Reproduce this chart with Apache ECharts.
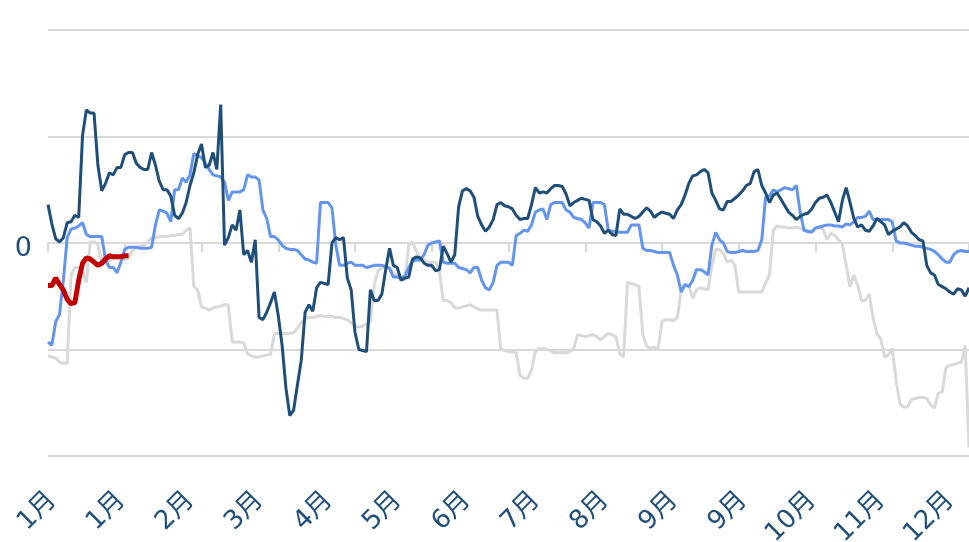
<!DOCTYPE html>
<html>
<head>
<meta charset="utf-8">
<script src="https://cdn.jsdelivr.net/npm/echarts@6/dist/echarts.min.js"></script>
<style>
html, body { margin: 0; padding: 0; background: #fff; }
#chart { width: 969px; height: 542px; }
</style>
</head>
<body>
<div id="chart"></div>
<script>
// month labels shown every 18 trading days
var monthLabels = ['1月', '1月', '2月', '3月', '4月', '5月', '6月', '7月', '8月', '9月', '9月', '10月', '11月', '12月'];
var pointCount = 241;
var labelStep = 18;

var darkBlue = [
    36, 18, 4, 1, 5, 19, 20, 26, 24, 101,
    125, 122, 122, 73, 49, 56, 66, 64, 71, 71,
    83, 85, 85, 75, 71, 69, 69, 85, 73, 58,
    50, 50, 44, 26, 23, 28, 38, 54, 66, 83,
    93, 71, 73, 85, 69, 130, -2, 5, 17, 12,
    31, -11, -7, -18, 3, -70, -72, -65, -56, -46,
    -68, -96, -136, -162, -157, -133, -110, -65, -58, -64,
    -42, -37, -38, -39, 0, 5, 3, 5, -33, -44,
    -84, -100, -101, -102, -44, -54, -54, -48, -25, -5,
    -21, -23, -35, -33, -32, -15, -13, -14, -19, -21,
    -21, -26, -25, -3, -10, -18, -11, 34, 49, 51,
    49, 43, 25, 17, 11, 15, 22, 36, 38, 35,
    34, 32, 26, 22, 23, 23, 36, 52, 47, 48,
    47, 51, 54, 54, 53, 46, 35, 38, 40, 42,
    41, 40, 22, 20, 16, 9, 12, 8, 7, 32,
    27, 27, 25, 23, 25, 29, 33, 30, 24, 27,
    29, 28, 27, 23, 31, 36, 45, 56, 63, 64,
    67, 69, 66, 47, 40, 32, 31, 39, 39, 42,
    45, 49, 54, 56, 67, 69, 54, 47, 38, 45,
    47, 41, 35, 29, 26, 22, 25, 27, 28, 32,
    38, 42, 43, 45, 38, 29, 20, 40, 52, 38,
    23, 15, 17, 12, 11, 16, 23, 20, 17, 8,
    11, 13, 15, 19, 16, 10, 7, 3, 2, -21,
    -28, -30, -39, -41, -43, -46, -48, -43, -44, -50,
    -42
];

var lightBlue = [
    -93, -96, -74, -67, -35, 5, 13, 14, 16, 19,
    8, 6, 6, 6, 6, -16, -23, -23, -28, -18,
    -6, -4, -4, -4, -5, -5, -5, -4, 17, 31,
    30, 28, 20, 50, 50, 61, 57, 64, 84, 82,
    80, 75, 69, 64, 63, 62, 57, 40, 48, 48,
    48, 50, 64, 62, 62, 59, 31, 23, 6, 6,
    3, -2, -5, -6, -6, -7, -11, -15, -16, -18,
    -19, 38, 38, 38, 33, -2, -21, -21, -19, -18,
    -21, -21, -21, -23, -22, -21, -21, -21, -22, -24,
    -32, -32, -33, -31, -23, -17, -16, -16, -11, -2,
    0, 1, 2, -18, -19, -19, -19, -23, -24, -25,
    -28, -23, -23, -35, -42, -44, -37, -21, -18, -18,
    -18, -21, 7, 9, 12, 11, 17, 29, 31, 32,
    22, 36, 38, 38, 38, 31, 29, 24, 23, 22,
    19, 14, 38, 38, 38, 36, 12, 11, 11, 10,
    10, 10, 17, 17, 17, -5, -7, -7, -8, -9,
    -9, -9, -9, -21, -30, -46, -39, -41, -35, -25,
    -25, -27, -30, -2, 10, 3, 0, -8, -9, -9,
    -8, -7, -8, -8, -8, -7, 3, 43, 44, 50,
    48, 50, 52, 51, 50, 54, 29, 12, 11, 10,
    14, 15, 16, 17, 17, 16, 16, 15, 18, 17,
    20, 24, 24, 25, 30, 22, 22, 22, 22, 22,
    20, 2, 0, 0, -1, -2, -3, -3, -4, -5,
    -6, -8, -11, -15, -18, -18, -11, -8, -7, -8,
    -8
];

var gray = [
    -106, -107, -108, -112, -113, -113, -30, -23, -23, -27,
    -37, 1, 1, -1, -18, -18, -16, -14, -14, -14,
    -16, -14, -7, -4, -3, -2, 1, 5, 5, 6,
    6, 6, 7, 7, 8, 8, 12, 14, -41, -44,
    -60, -61, -63, -61, -60, -59, -58, -58, -93, -93,
    -93, -94, -104, -106, -107, -107, -106, -105, -105, -85,
    -85, -85, -85, -85, -84, -80, -75, -71, -70, -70,
    -69, -68, -69, -69, -69, -70, -70, -71, -72, -75,
    -78, -79, -78, -76, -74, -39, -26, -23, -23, -23,
    -28, -31, -33, -35, -2, 1, -8, -14, -16, -19,
    -18, -18, -27, -54, -54, -56, -61, -61, -60, -59,
    -58, -60, -62, -63, -63, -63, -63, -63, -100, -101,
    -102, -102, -103, -124, -127, -127, -119, -102, -99, -99,
    -100, -101, -103, -103, -103, -103, -102, -99, -86, -87,
    -88, -87, -86, -88, -91, -88, -85, -86, -88, -104,
    -107, -37, -38, -39, -41, -86, -97, -99, -98, -99,
    -74, -72, -72, -73, -70, -44, -39, -40, -52, -44,
    -42, -43, -44, -21, -6, -6, -10, -18, -16, -21,
    -46, -46, -46, -46, -46, -46, -46, -38, -30, 12,
    16, 15, 15, 14, 14, 15, 14, 12, 10, 12,
    14, 14, 13, 3, 9, 7, 3, -1, -21, -41,
    -30, -40, -54, -54, -48, -70, -85, -90, -107, -105,
    -99, -129, -151, -154, -154, -147, -146, -145, -145, -146,
    -152, -155, -141, -140, -117, -115, -114, -113, -112, -96,
    -192
];

var red = [-40, -40, -33, -39, -44, -53, -57, -56, -35, -19, -14, -15, -18, -21, -19, -15, -12, -13, -13, -13, -12, -12];

var categories = [];
for (var i = 0; i < pointCount; i++) {
    categories.push(monthLabels[Math.min(monthLabels.length - 1, Math.floor(i / labelStep))]);
}

var textColor = '#1F4E79';
var gridColor = '#D9D9D9';
var fontFamily = 'DejaVu Sans, Noto Sans CJK SC, sans-serif';

var myChart = echarts.init(document.getElementById('chart'));
var option = {
    animation: false,
    grid: {
        left: 48,
        right: 0,
        top: 30,
        bottom: 86,
        outerBoundsMode: 'none'
    },
    xAxis: [{
        type: 'category',
        boundaryGap: false,
        data: categories,
        axisLine: { show: false, onZero: false },
        axisTick: { show: false },
        axisLabel: {
            interval: labelStep - 1,
            rotate: 45,
            margin: 36,
            formatter: function (v) { return '{m|' + v + '}'; },
            rich: {
                m: {
                    padding: [12, 0, 0, 0],
                    color: textColor,
                    fontSize: 26,
                    fontFamily: fontFamily
                }
            }
        }
    }, {
        type: 'category',
        boundaryGap: false,
        data: categories,
        position: 'bottom',
        axisLine: {
            show: true,
            onZero: true,
            lineStyle: { color: gridColor, width: 2 }
        },
        axisTick: {
            show: true,
            interval: 19,
            length: 9,
            lineStyle: { color: gridColor, width: 2 }
        },
        axisLabel: { show: false }
    }],
    yAxis: {
        type: 'value',
        min: -200,
        max: 200,
        interval: 100,
        axisLine: { show: false },
        axisTick: { show: false },
        axisLabel: {
            margin: 16,
            formatter: function (v) { return v === 0 ? '{z|0}' : ''; },
            rich: {
                z: {
                    padding: [12, 0, 0, 0],
                    color: textColor,
                    fontSize: 27,
                    fontFamily: fontFamily
                }
            }
        },
        splitLine: {
            lineStyle: { color: gridColor, width: 2 }
        }
    },
    series: [{
        name: 'gray',
        type: 'line',
        data: gray,
        showSymbol: false,
        lineStyle: { color: '#D9D9D9', width: 3 },
        itemStyle: { color: '#D9D9D9' }
    }, {
        name: 'lightBlue',
        type: 'line',
        data: lightBlue,
        showSymbol: false,
        lineStyle: { color: '#6495ED', width: 3 },
        itemStyle: { color: '#6495ED' }
    }, {
        name: 'darkBlue',
        type: 'line',
        data: darkBlue,
        showSymbol: false,
        lineStyle: { color: '#1F4E79', width: 3 },
        itemStyle: { color: '#1F4E79' }
    }, {
        name: 'red',
        type: 'line',
        data: red,
        showSymbol: false,
        lineStyle: { color: '#C00000', width: 5 },
        itemStyle: { color: '#C00000' }
    }]
};
myChart.setOption(option);
</script>
</body>
</html>
